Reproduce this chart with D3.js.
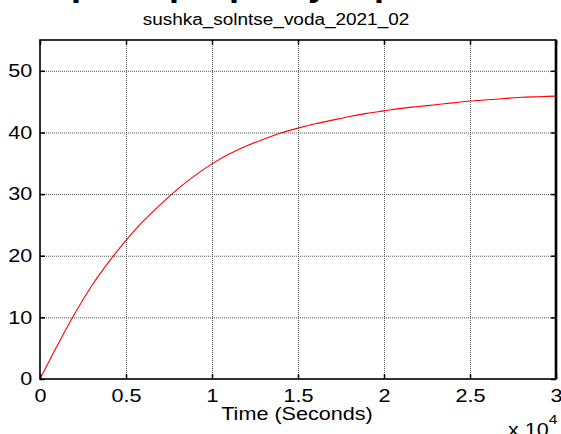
<!DOCTYPE html>
<html>
<head>
<meta charset="utf-8">
<script src="https://cdn.jsdelivr.net/npm/d3@7"></script>
<style>
  body { margin: 0; background: #fff; }
  text { font-family: "Liberation Sans", Arial, sans-serif; }
</style>
</head>
<body>
<div class="canvas"></div>
<script>
const dims = { width: 561, height: 434 };

// simulation output
const times = [0, 1000, 2000, 3000, 4000, 5000, 6000, 7000, 8000, 9000, 10000,
  11000, 12000, 13000, 14000, 15000, 16000, 17000, 18000, 19000, 20000,
  21000, 22000, 23000, 24000, 25000, 26000, 27000, 28000, 29000, 30000];
const temps = [0, 5.4, 10.5, 15.1, 19.0, 22.5, 25.6, 28.3, 30.8, 33.0, 34.9,
  36.5, 37.8, 38.9, 39.9, 40.7, 41.4, 42.0, 42.6, 43.1, 43.5,
  43.9, 44.2, 44.5, 44.8, 45.1, 45.3, 45.5, 45.7, 45.8, 45.9];

const xTicks = [0, 5000, 10000, 15000, 20000, 25000, 30000];
const yTicks = [0, 10, 20, 30, 40, 50];

const titleText = "sushka_solntse_voda_2021_02";
const xLabel = "Time (Seconds)";

// bottoms of a cut-off heading above the figure
const headGlyphs = [
  { ch: "р", x: 82 }, { ch: "р", x: 180 }, { ch: "р", x: 240 },
  { ch: "у", x: 318 }, { ch: "р", x: 385 }
];

const m = { left: 40, right: 556, top: 40, bottom: 379 };
const stretch = "scale(1.2,1)";

const svg = d3
  .select(".canvas")
  .append("svg")
  .attr("width", dims.width)
  .attr("height", dims.height);

const x = d3.scaleLinear().domain([0, 30000]).range([m.left, m.right]);
const y = d3.scaleLinear().domain([0, 55]).range([m.bottom, m.top]);

// grid
svg.append("g")
  .selectAll("line")
  .data(yTicks.filter((d) => d > 0))
  .join("line")
  .attr("x1", m.left).attr("x2", m.right)
  .attr("y1", (d) => y(d) + 0.5).attr("y2", (d) => y(d) + 0.5)
  .attr("stroke", "#555")
  .attr("stroke-dasharray", "1,1");

svg.append("g")
  .selectAll("line")
  .data(xTicks.filter((d) => d > 0 && d < 30000))
  .join("line")
  .attr("x1", (d) => Math.round(x(d)) + 0.5).attr("x2", (d) => Math.round(x(d)) + 0.5)
  .attr("y1", m.top).attr("y2", m.bottom)
  .attr("stroke", "#555")
  .attr("stroke-dasharray", "1,1");

// curve
const line = d3.line()
  .x((d, i) => x(times[i]))
  .y((d) => y(d))
  .curve(d3.curveMonotoneX);

svg.append("path")
  .datum(temps)
  .attr("fill", "none")
  .attr("stroke", "#ff0000")
  .attr("stroke-width", 1.1)
  .attr("d", line);

// axes
const xAxis = svg.append("g")
  .attr("transform", `translate(0,${m.bottom})`)
  .call(d3.axisBottom(x).tickValues(xTicks).tickSizeInner(-5).tickSizeOuter(0)
    .tickPadding(10).tickFormat((d) => d / 1e4));

const yAxis = svg.append("g")
  .attr("transform", `translate(${m.left},0)`)
  .call(d3.axisLeft(y).tickValues(yTicks).tickSizeInner(-5).tickSizeOuter(0)
    .tickPadding(6.5));

svg.append("g")
  .attr("transform", `translate(0,${m.top})`)
  .call(d3.axisTop(x).tickValues(xTicks).tickSizeInner(-5).tickSizeOuter(0).tickFormat(""));

svg.append("g")
  .attr("transform", `translate(${m.right},0)`)
  .call(d3.axisRight(y).tickValues(yTicks).tickSizeInner(-5).tickSizeOuter(0).tickFormat(""));

svg.selectAll(".domain").remove();
svg.selectAll(".tick line").attr("stroke", "#000").attr("stroke-width", 1.5);

[xAxis, yAxis].forEach((g) =>
  g.selectAll("text")
    .attr("font-size", 18)
    .attr("fill", "#000")
    .attr("font-family", "Liberation Sans, Arial, sans-serif")
    .attr("transform", stretch)
);

// frame
svg.append("rect")
  .attr("x", m.left).attr("y", m.top)
  .attr("width", m.right - m.left).attr("height", m.bottom - m.top)
  .attr("fill", "none")
  .attr("stroke", "#000")
  .attr("stroke-width", 1.6);

svg.append("line")
  .attr("x1", m.right).attr("x2", m.right)
  .attr("y1", m.top).attr("y2", m.bottom)
  .attr("stroke", "#000")
  .attr("stroke-width", 2.6);

// texts
svg.append("text")
  .attr("transform", `translate(276,25) ${stretch}`)
  .attr("text-anchor", "middle")
  .attr("font-size", 15.8)
  .text(titleText);

svg.append("text")
  .attr("transform", `translate(297,420) ${stretch}`)
  .attr("text-anchor", "middle")
  .attr("font-size", 18)
  .text(xLabel);

const expo = svg.append("text")
  .attr("transform", `translate(508,436) ${stretch}`)
  .attr("font-size", 18);
expo.append("tspan").text("x 10");
expo.append("tspan").attr("font-size", 13).attr("dy", -12).text("4");

svg.append("g")
  .selectAll("text")
  .data(headGlyphs)
  .join("text")
  .attr("x", (d) => d.x)
  .attr("y", -5.5)
  .attr("text-anchor", "middle")
  .attr("font-family", "Liberation Serif, Times New Roman, serif")
  .attr("font-weight", "bold")
  .attr("font-size", 36)
  .text((d) => d.ch);
</script>
</body>
</html>
